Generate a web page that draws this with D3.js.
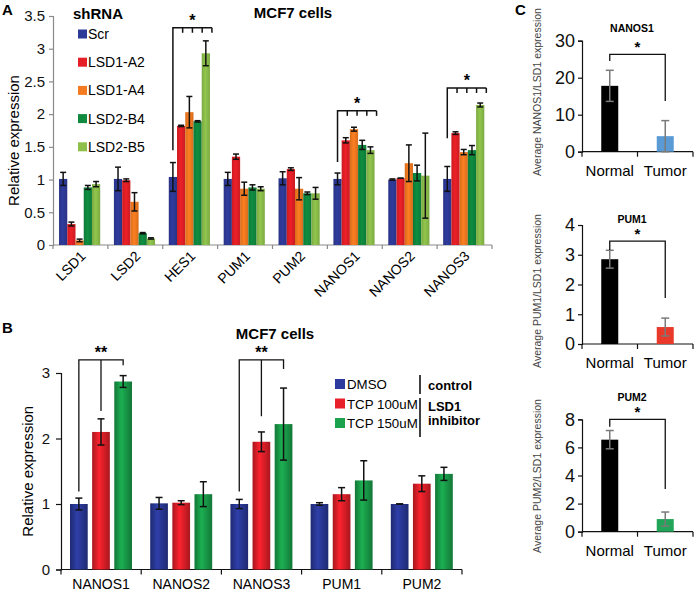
<!DOCTYPE html>
<html>
<head>
<meta charset="utf-8">
<script src="https://cdn.jsdelivr.net/npm/d3@7"></script>
<style>
  body { margin: 0; background: #fff; }
  svg { display: block; font-family: "Liberation Sans", Arial, sans-serif; }
</style>
</head>
<body>
<div id="chart"></div>
<script>
// ===== 数据 =====
// A: shRNA knockdown, MCF7
const genesA = ['LSD1', 'LSD2', 'HES1', 'PUM1', 'PUM2', 'NANOS1', 'NANOS2', 'NANOS3'];
const shrnaA = ['Scr', 'LSD1-A2', 'LSD1-A4', 'LSD2-B4', 'LSD2-B5'];
const meansA = [
  [1.01, 0.32, 0.07, 0.88, 0.93],
  [1.01, 0.99, 0.66, 0.18, 0.10],
  [1.04, 1.82, 2.03, 1.89, 2.93],
  [1.01, 1.35, 0.86, 0.88, 0.86],
  [1.02, 1.16, 0.86, 0.79, 0.79],
  [1.01, 1.60, 1.77, 1.53, 1.45],
  [1.00, 1.02, 1.25, 1.10, 1.06],
  [1.01, 1.71, 1.42, 1.45, 2.14]
];
const errA = [
  [0.10, 0.03, 0.02, 0.03, 0.04],
  [0.18, 0.02, 0.14, 0.01, 0.01],
  [0.22, 0.01, 0.24, 0.01, 0.19],
  [0.10, 0.04, 0.10, 0.04, 0.03],
  [0.10, 0.02, 0.17, 0.02, 0.09],
  [0.09, 0.04, 0.03, 0.07, 0.05],
  [0.01, 0.00, 0.28, 0.12, 0.65],
  [0.19, 0.02, 0.04, 0.07, 0.03]
];
const ticksA = [0, 0.5, 1, 1.5, 2, 2.5, 3, 3.5];
// 显著性标记 (gene, top, foot in data units)
const sigA = [
  { gene: 'HES1', top: 3.32, foot: 1.45, label: '*' },
  { gene: 'NANOS1', top: 2.05, foot: 1.27, label: '*' },
  { gene: 'NANOS3', top: 2.40, foot: 1.63, label: '*' }
];

// B: TCP treatment
const genesB = ['NANOS1', 'NANOS2', 'NANOS3', 'PUM1', 'PUM2'];
const treatB = ['DMSO', 'TCP 100uM', 'TCP 150uM'];
const meansB = [
  [1.00, 2.10, 2.87],
  [1.01, 1.02, 1.15],
  [1.00, 1.95, 2.22],
  [1.00, 1.15, 1.36],
  [1.00, 1.31, 1.46]
];
const errB = [
  [0.09, 0.20, 0.09],
  [0.09, 0.03, 0.19],
  [0.07, 0.15, 0.55],
  [0.02, 0.10, 0.30],
  [0.00, 0.12, 0.10]
];
const ticksB = [0, 1, 2, 3];
const sigB = [
  { gene: 'NANOS1', top: 3.2, feet: [1.19, 2.42, 3.12], label: '**' },
  { gene: 'NANOS3', top: 3.2, feet: [1.19, 2.34, 3.06], label: '**' }
];

// C: patient tissue
const genesC = ['NANOS1', 'PUM1', 'PUM2'];
const groupsC = ['Normal', 'Tumor'];
const meansC = [[17.8, 4.2], [2.85, 0.57], [6.55, 0.9]];
const errC = [[4.2, 4.2], [0.3, 0.3], [0.65, 0.5]];
const maxC = [30, 4, 8];
const stepC = [10, 1, 2];
const sigC = [
  { top: 26.3, feet: [24.5, 13.7] },
  { top: 3.46, feet: [3.16, 1.55] },
  { top: 8.0, feet: [7.47, 3.04] }
];

// ===== 样式 =====
const colorsA = ['#2e3a98', '#e61f27', '#f47b20', '#0f8a3f', '#8dc04b'];
const colorsB = ['#2b3a9c', '#e8202a', '#1aa24c'];
const tumorColorsC = ['#5b9bd5', '#e8392b', '#22a558'];

const svg = d3.select('#chart')
  .append('svg')
  .attr('width', 700)
  .attr('height', 596);

const defs = svg.append('defs');
function makeGrad(id, color, k, mid) {
  const c = d3.color(color);
  const g = defs.append('linearGradient').attr('id', id)
    .attr('x1', 0).attr('x2', 1).attr('y1', 0).attr('y2', 0);
  g.append('stop').attr('offset', '0%').attr('stop-color', c.darker(k));
  g.append('stop').attr('offset', mid).attr('stop-color', c.brighter(k * 0.25));
  g.append('stop').attr('offset', '100%').attr('stop-color', c.darker(k));
}
colorsA.forEach((c, i) => makeGrad('gA' + i, c, 0.35, '45%'));
colorsB.forEach((c, i) => makeGrad('gB' + i, c, 0.9, '40%'));

function errorBar(g, x, y0, y1, cap, color, w) {
  g.append('line').attr('x1', x).attr('x2', x).attr('y1', y0).attr('y2', y1)
    .attr('stroke', color).attr('stroke-width', w);
  [y0, y1].forEach(y => g.append('line')
    .attr('x1', x - cap / 2).attr('x2', x + cap / 2).attr('y1', y).attr('y2', y)
    .attr('stroke', color).attr('stroke-width', w));
}

function panelLabel(t, x, y) {
  svg.append('text').attr('x', x).attr('y', y).attr('font-size', 15)
    .attr('font-weight', 'bold').text(t);
}

// ===== Panel A =====
const xA = d3.scaleBand().domain(genesA).range([53, 492]);
const xA1 = d3.scaleBand().domain(shrnaA)
  .range([xA.bandwidth() * 0.11, xA.bandwidth() * 0.86]);
const yA = d3.scaleLinear().domain([0, 3.5]).range([245, 16]);
const gA = svg.append('g');

panelLabel('A', 2, 15);
gA.append('text').attr('x', 293).attr('y', 18).attr('text-anchor', 'middle')
  .attr('font-size', 15).attr('font-weight', 'bold').text('MCF7 cells');

gA.append('text')
  .attr('transform', `translate(19,${(yA(0) + yA(3.5)) / 2 + 10}) rotate(-90)`)
  .attr('text-anchor', 'middle').attr('font-size', 15).text('Relative expression');

const axA = gA.append('g').attr('transform', 'translate(53,0)')
  .call(d3.axisLeft(yA).tickValues(ticksA).tickSize(4).tickPadding(4).tickFormat(d => d));
axA.selectAll('text').attr('font-size', 15).attr('fill', '#111');
axA.selectAll('line, path').attr('stroke', '#8a8a8a').attr('stroke-width', 1.2);

// x 轴
gA.append('line').attr('x1', xA.range()[0]).attr('x2', xA.range()[1])
  .attr('y1', yA(0)).attr('y2', yA(0)).attr('stroke', '#8a8a8a').attr('stroke-width', 1.2);
gA.selectAll('.xtick').data(genesA.concat(['end'])).join('line')
  .attr('x1', d => d === 'end' ? xA.range()[1] : xA(d))
  .attr('x2', d => d === 'end' ? xA.range()[1] : xA(d))
  .attr('y1', yA(0)).attr('y2', yA(0) + 4)
  .attr('stroke', '#8a8a8a').attr('stroke-width', 1.2);
gA.selectAll('.xlab').data(genesA).join('text')
  .attr('transform', d => `translate(${xA(d) + xA.bandwidth() / 2 + 6},${yA(0) + 12}) rotate(-45)`)
  .attr('text-anchor', 'end').attr('font-size', 14).text(d => d);

// 柱子
genesA.forEach((gene, gi) => {
  const grp = gA.append('g').attr('transform', `translate(${xA(gene)},0)`);
  shrnaA.forEach((s, si) => {
    const m = meansA[gi][si], e = errA[gi][si];
    grp.append('rect').attr('x', xA1(s)).attr('width', xA1.bandwidth())
      .attr('y', yA(m)).attr('height', yA(0) - yA(m))
      .attr('fill', `url(#gA${si})`);
    errorBar(grp, xA1(s) + xA1.bandwidth() / 2, yA(m - e), yA(m + e), 6, '#111', 1.5);
  });
});

// 显著性括号
sigA.forEach(d => {
  const gx = xA(d.gene);
  const left = gx + xA1(shrnaA[0]) + xA1.bandwidth() / 2;
  const right = gx + xA1(shrnaA[4]) + xA1.bandwidth() + 2;
  const yt = yA(d.top);
  const b = gA.append('g').attr('stroke', '#111').attr('stroke-width', 1.5).attr('fill', 'none');
  b.append('path').attr('d', `M${left},${yA(d.foot)}V${yt}H${right}`);
  d3.range(1, 5).forEach(k => {
    const x = left + (right - left) * k / 4;
    b.append('line').attr('x1', x).attr('x2', x).attr('y1', yt).attr('y2', yt + 5);
  });
  gA.append('text').attr('x', (left + right) / 2).attr('y', yt - 2)
    .attr('text-anchor', 'middle').attr('font-size', 16).attr('font-weight', 'bold').text(d.label);
});

// 图例
gA.append('text').attr('x', 73).attr('y', 19).attr('font-size', 15)
  .attr('font-weight', 'bold').text('shRNA');
shrnaA.forEach((s, i) => {
  const y = 34 + i * 28.2;
  gA.append('rect').attr('x', 78).attr('y', y - 4.5).attr('width', 9).attr('height', 9)
    .attr('fill', colorsA[i]);
  gA.append('text').attr('x', 88).attr('y', y + 5).attr('font-size', 14).text(s);
});

// ===== Panel B =====
const xB = d3.scaleBand().domain(genesB).range([61, 462]);
const xB1 = d3.scaleBand().domain(treatB).range([9, 71]).paddingInner(0.2);
const yB = d3.scaleLinear().domain([0, 3]).range([569.5, 373]);
const gB = svg.append('g');

panelLabel('B', 2, 333);
gB.append('text').attr('x', 275).attr('y', 339).attr('text-anchor', 'middle')
  .attr('font-size', 15).attr('font-weight', 'bold').text('MCF7 cells');

gB.append('text')
  .attr('transform', `translate(33,${(yB(0) + yB(3)) / 2}) rotate(-90)`)
  .attr('text-anchor', 'middle').attr('font-size', 15).text('Relative expression');

const axB = gB.append('g').attr('transform', 'translate(61,0)')
  .call(d3.axisLeft(yB).tickValues(ticksB).tickSize(5).tickPadding(6).tickFormat(d => d));
axB.selectAll('text').attr('font-size', 15).attr('fill', '#111');
axB.selectAll('line, path').attr('stroke', '#111').attr('stroke-width', 1.2);

gB.append('line').attr('x1', xB.range()[0]).attr('x2', xB.range()[1])
  .attr('y1', yB(0)).attr('y2', yB(0)).attr('stroke', '#111').attr('stroke-width', 1.2);
gB.selectAll('.xtick').data(genesB.concat(['end'])).join('line')
  .attr('x1', d => d === 'end' ? xB.range()[1] : xB(d))
  .attr('x2', d => d === 'end' ? xB.range()[1] : xB(d))
  .attr('y1', yB(0)).attr('y2', yB(0) + 5)
  .attr('stroke', '#111').attr('stroke-width', 1.2);
gB.selectAll('.xlab').data(genesB).join('text')
  .attr('x', d => xB(d) + xB.bandwidth() / 2).attr('y', yB(0) + 19)
  .attr('text-anchor', 'middle').attr('font-size', 14).text(d => d);

genesB.forEach((gene, gi) => {
  const grp = gB.append('g').attr('transform', `translate(${xB(gene)},0)`);
  treatB.forEach((t, ti) => {
    const m = meansB[gi][ti], e = errB[gi][ti];
    grp.append('rect').attr('x', xB1(t)).attr('width', xB1.bandwidth())
      .attr('y', yB(m)).attr('height', yB(0) - yB(m))
      .attr('fill', `url(#gB${ti})`);
    errorBar(grp, xB1(t) + xB1.bandwidth() / 2, yB(m - e), yB(m + e), 7, '#111', 1.5);
  });
});

sigB.forEach(d => {
  const xs = treatB.map(t => xB(d.gene) + xB1(t) + xB1.bandwidth() / 2);
  const yt = yB(d.top);
  const b = gB.append('g').attr('stroke', '#111').attr('stroke-width', 1.3).attr('fill', 'none');
  b.append('path').attr('d', `M${xs[0]},${yB(d.feet[0])}V${yt}H${xs[2]}V${yB(d.feet[2])}`);
  b.append('line').attr('x1', xs[1]).attr('x2', xs[1]).attr('y1', yt).attr('y2', yB(d.feet[1]));
  gB.append('text').attr('x', xs[1]).attr('y', yt - 2).attr('text-anchor', 'middle')
    .attr('font-size', 16).attr('font-weight', 'bold').text(d.label);
});

// 图例 B
treatB.forEach((t, i) => {
  const y = 384 + i * 19.5;
  gB.append('rect').attr('x', 335).attr('y', y - 5).attr('width', 10).attr('height', 10)
    .attr('fill', colorsB[i]);
  gB.append('text').attr('x', 347).attr('y', y + 5).attr('font-size', 13.3).text(t);
});
gB.append('line').attr('x1', 420).attr('x2', 420).attr('y1', 375).attr('y2', 394)
  .attr('stroke', '#111').attr('stroke-width', 1.6);
gB.append('line').attr('x1', 420).attr('x2', 420).attr('y1', 398).attr('y2', 437)
  .attr('stroke', '#111').attr('stroke-width', 1.6);
[['control', 390], ['LSD1', 411], ['inhibitor', 425]].forEach(([t, y]) => {
  gB.append('text').attr('x', 428).attr('y', y).attr('font-size', 13)
    .attr('font-weight', 'bold').text(t);
});

// ===== Panel C =====
panelLabel('C', 515, 15);
const layoutC = [
  { y0: 151.7, y1: 40.7, title: 32, ylab: 92 },
  { y0: 344, y1: 225, title: 223, ylab: 291 },
  { y0: 531.7, y1: 419.3, title: 401, ylab: 476 }
];
const xC = d3.scaleBand().domain(groupsC).range([582, 693]);

genesC.forEach((gene, ci) => {
  const L = layoutC[ci];
  const y = d3.scaleLinear().domain([0, maxC[ci]]).range([L.y0, L.y1]);
  const g = svg.append('g');

  g.append('text').attr('x', 632).attr('y', L.title).attr('text-anchor', 'middle')
    .attr('font-size', 10.5).attr('font-weight', 'bold').text(gene);
  g.append('text')
    .attr('transform', `translate(541,${L.ylab}) rotate(-90)`)
    .attr('text-anchor', 'middle').attr('font-size', 10.5).attr('fill', '#444')
    .text(`Average ${gene}/LSD1 expression`);

  const ax = g.append('g').attr('transform', 'translate(582,0)')
    .call(d3.axisLeft(y).tickValues(d3.range(0, maxC[ci] + 0.001, stepC[ci]))
      .tickSize(4).tickPadding(3).tickFormat(d => d));
  ax.selectAll('text').attr('font-size', 18).attr('fill', '#111');
  ax.selectAll('line, path').attr('stroke', '#111').attr('stroke-width', 1.2);

  g.append('line').attr('x1', 582).attr('x2', 693).attr('y1', L.y0).attr('y2', L.y0)
    .attr('stroke', '#111').attr('stroke-width', 1.2);
  g.selectAll('.xt').data(groupsC.concat(['end'])).join('line')
    .attr('x1', d => d === 'end' ? 693 : xC(d))
    .attr('x2', d => d === 'end' ? 693 : xC(d))
    .attr('y1', L.y0).attr('y2', L.y0 + 5)
    .attr('stroke', '#111').attr('stroke-width', 1.2);
  g.selectAll('.xl').data(groupsC).join('text')
    .attr('x', d => xC(d) + xC.bandwidth() / 2).attr('y', L.y0 + 24)
    .attr('text-anchor', 'middle').attr('font-size', 15).text(d => d);

  groupsC.forEach((grp, gi) => {
    const m = meansC[ci][gi], e = errC[ci][gi];
    const cx = xC(grp) + xC.bandwidth() / 2;
    g.append('rect').attr('x', cx - 8.5).attr('width', 17)
      .attr('y', y(m)).attr('height', L.y0 - y(m))
      .attr('fill', gi === 0 ? '#000' : tumorColorsC[ci]);
    errorBar(g, cx, y(Math.max(0, m - e)), y(m + e), 8, '#7a7a7a', 1.5);
  });

  const s = sigC[ci];
  const xs = groupsC.map(d => xC(d) + xC.bandwidth() / 2);
  g.append('path')
    .attr('d', `M${xs[0]},${y(s.feet[0])}V${y(s.top)}H${xs[1]}V${y(s.feet[1])}`)
    .attr('fill', 'none').attr('stroke', '#111').attr('stroke-width', 1.3);
  g.append('text').attr('x', (xs[0] + xs[1]) / 2).attr('y', y(s.top) - 2)
    .attr('text-anchor', 'middle').attr('font-size', 15).attr('font-weight', 'bold').text('*');
});
</script>
</body>
</html>
